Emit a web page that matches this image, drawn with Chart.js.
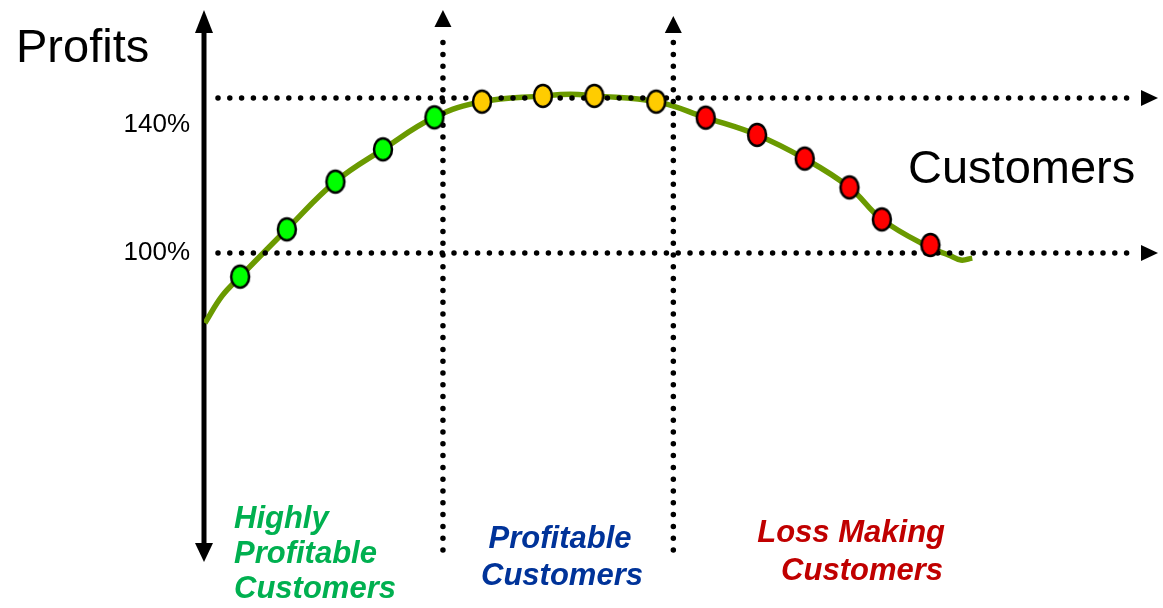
<!DOCTYPE html>
<html>
<head>
<meta charset="utf-8">
<script src="https://cdn.jsdelivr.net/npm/chart.js@4.4.1/dist/chart.umd.min.js"></script>
<style>
  html, body { margin: 0; padding: 0; background: #fff; }
</style>
</head>
<body>
<canvas id="chart" width="1163" height="608"></canvas>
<script>
// customers ranked by profitability (x = share of customers, y = cumulative profit %)
var customerX = [3.8, 8.7, 13.8, 18.8, 24.2, 29.2, 35.6, 41.0, 47.5, 52.7, 58.1, 63.1, 67.8, 71.2, 76.3];
var profitY   = [92.6, 107.4, 122.3, 132.4, 142.4, 147.3, 149.1, 149.1, 147.3, 142.3, 136.9, 129.5, 120.5, 110.5, 102.5];
var segment   = ['high', 'high', 'high', 'high', 'high', 'mid', 'mid', 'mid', 'mid', 'loss', 'loss', 'loss', 'loss', 'loss', 'loss'];

// the smooth profit curve behind the dots
var curveX = [0.1, 1.9, 3.8, 8.7, 13.8, 18.8, 24.2, 29.2, 35.6, 38.5, 41.0, 47.5, 52.7, 58.1, 63.1, 67.8, 71.2, 76.3, 78.2, 79.5, 80.7];
var curveY = [78.1, 86.6, 92.6, 107.4, 122.3, 132.4, 142.4, 147.3, 149.1, 149.6, 149.1, 147.3, 142.3, 136.9, 129.5, 120.5, 110.5, 101.6, 99.4, 97.8, 98.4];

// axis ticks and guide lines
var yTicks = [100, 140];
var guideY = [100, 148.4];
var guideX = [25.1, 49.3];

// segment captions
var segmentNames = {
    high: ['Highly', 'Profitable', 'Customers'],
    mid: ['Profitable', 'Customers'],
    loss: ['Loss Making', 'Customers']
};

var segmentColors = { high: '#00ff00', mid: '#ffcc00', loss: '#ff0000' };
var captionColors = { high: '#00b050', mid: '#003399', loss: '#c00000' };

// Build an oval marker image for a given fill colour
function markerImage(fill) {
    var c = document.createElement('canvas');
    c.width = 26;
    c.height = 30;
    var g = c.getContext('2d');
    g.beginPath();
    g.ellipse(13, 15, 9, 11, 0, 0, Math.PI * 2);
    g.fillStyle = fill;
    g.fill();
    g.lineWidth = 2.5;
    g.strokeStyle = '#000';
    g.stroke();
    return c;
}

var markers = {};
for (var key in segmentColors) {
    markers[key] = markerImage(segmentColors[key]);
}

var points = [];
var pointStyles = [];
for (var i = 0; i < customerX.length; i++) {
    points.push({ x: customerX[i], y: profitY[i] });
    pointStyles.push(markers[segment[i]]);
}

var curve = [];
for (var j = 0; j < curveX.length; j++) {
    curve.push({ x: curveX[j], y: curveY[j] });
}

function dottedLine(ctx, x1, y1, x2, y2) {
    ctx.save();
    ctx.strokeStyle = '#000';
    ctx.lineWidth = 5.5;
    ctx.lineCap = 'round';
    ctx.setLineDash([0, 11.8]);
    ctx.beginPath();
    ctx.moveTo(x1, y1);
    ctx.lineTo(x2, y2);
    ctx.stroke();
    ctx.restore();
}

// filled triangle, tip at (x, y), pointing dir ('up', 'down', 'right')
function arrowHead(ctx, x, y, dir, len, half) {
    ctx.save();
    ctx.fillStyle = '#000';
    ctx.beginPath();
    ctx.moveTo(x, y);
    if (dir === 'up') {
        ctx.lineTo(x - half, y + len);
        ctx.lineTo(x + half, y + len);
    } else if (dir === 'down') {
        ctx.lineTo(x - half, y - len);
        ctx.lineTo(x + half, y - len);
    } else {
        ctx.lineTo(x - len, y - half);
        ctx.lineTo(x - len, y + half);
    }
    ctx.closePath();
    ctx.fill();
    ctx.restore();
}

var diagramPlugin = {
    id: 'diagram',
    beforeDatasetsDraw: function(chart) {
        var ctx = chart.ctx;
        var left = chart.chartArea.left;
        // main profits axis with arrows at both ends
        ctx.save();
        ctx.strokeStyle = '#000';
        ctx.lineWidth = 5;
        ctx.beginPath();
        ctx.moveTo(left, 30);
        ctx.lineTo(left, 546);
        ctx.stroke();
        ctx.restore();
        arrowHead(ctx, left, 10, 'up', 23, 9);
        arrowHead(ctx, left, 562, 'down', 19, 9);
    },
    afterDatasetDraw: function(chart, args) {
        // guide lines go over the curve but under the dots
        if (args.index !== 1) return;
        var ctx = chart.ctx;
        var xs = chart.scales.x;
        var ys = chart.scales.y;
        var left = chart.chartArea.left;
        guideY.forEach(function(v) {
            var y = ys.getPixelForValue(v);
            dottedLine(ctx, left + 14, y, 1136, y);
            arrowHead(ctx, 1158, y, 'right', 17, 8);
        });
        var tips = [10, 16];
        guideX.forEach(function(v, k) {
            var x = xs.getPixelForValue(v);
            dottedLine(ctx, x, 550, x, tips[k] + 24);
            arrowHead(ctx, x, tips[k], 'up', 17, 8.5);
        });
    },
    afterDraw: function(chart) {
        var ctx = chart.ctx;
        ctx.save();
        ctx.fillStyle = '#000';
        ctx.font = '47px "Liberation Sans", Arial, sans-serif';
        ctx.textAlign = 'left';
        ctx.textBaseline = 'alphabetic';
        ctx.fillText('Profits', 16, 62);
        ctx.fillText('Customers', 908, 183);

        ctx.font = 'italic bold 31px "Liberation Sans", Arial, sans-serif';
        ctx.fillStyle = captionColors.high;
        var hi = segmentNames.high;
        ctx.fillText(hi[0], 234, 528);
        ctx.fillText(hi[1], 234, 563);
        ctx.fillText(hi[2], 234, 598);

        ctx.textAlign = 'center';
        ctx.fillStyle = captionColors.mid;
        ctx.fillText(segmentNames.mid[0], 560, 548);
        ctx.fillText(segmentNames.mid[1], 562, 585);

        ctx.textAlign = 'right';
        ctx.fillStyle = captionColors.loss;
        ctx.fillText(segmentNames.loss[0], 945, 542);
        ctx.fillText(segmentNames.loss[1], 943, 580);
        ctx.restore();
    }
};

new Chart(document.getElementById('chart').getContext('2d'), {
    type: 'scatter',
    data: {
        datasets: [{
            data: points,
            pointStyle: pointStyles,
            showLine: false
        }, {
            type: 'line',
            data: curve,
            borderColor: '#6a9a00',
            borderWidth: 5.5,
            pointRadius: 0,
            tension: 0.4,
            fill: false
        }]
    },
    options: {
        responsive: false,
        animation: false,
        layout: { padding: { left: 124, right: 7, top: 13, bottom: 35 } },
        scales: {
            x: { type: 'linear', min: 0, max: 100, display: false },
            y: {
                type: 'linear',
                min: 0,
                max: 175,
                grid: { display: false, drawTicks: false },
                border: { display: false },
                afterFit: function(scale) {
                    scale.width = 80;
                    scale.paddingTop = 0;
                    scale.paddingBottom = 0;
                },
                afterBuildTicks: function(scale) {
                    scale.ticks = yTicks.map(function(v) { return { value: v }; });
                },
                ticks: {
                    padding: 14,
                    color: '#000',
                    font: { family: '"Liberation Sans", Arial, sans-serif', size: 26, lineHeight: 1 },
                    callback: function(v) { return v + '%'; }
                }
            }
        },
        plugins: {
            legend: { display: false },
            tooltip: { enabled: false }
        }
    },
    plugins: [diagramPlugin]
});
</script>
</body>
</html>
